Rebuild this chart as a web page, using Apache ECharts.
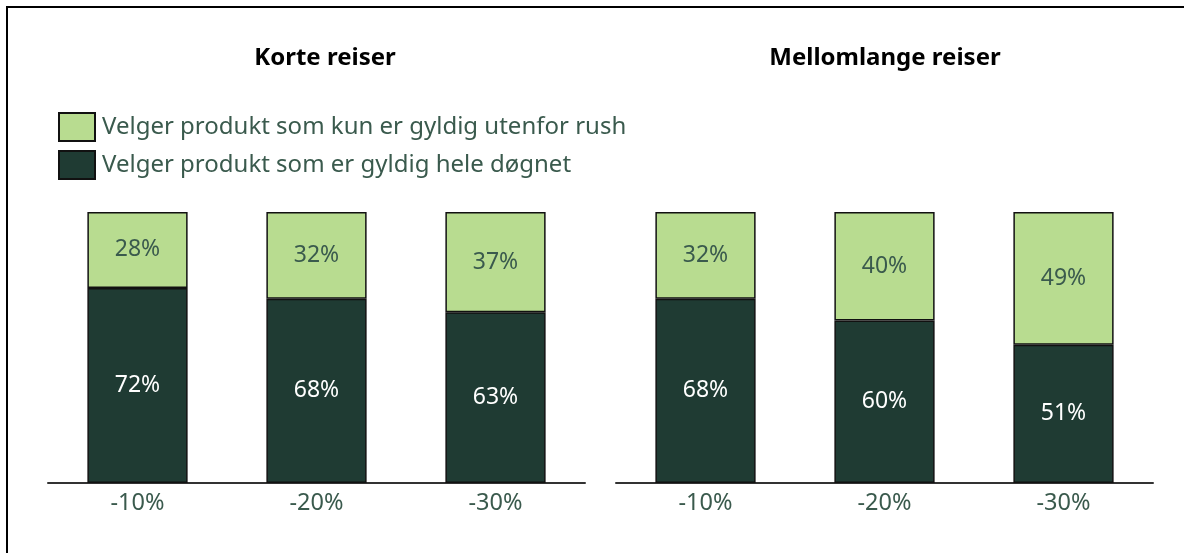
<!DOCTYPE html>
<html>
<head>
<meta charset="utf-8">
<script src="https://cdn.jsdelivr.net/npm/echarts@6/dist/echarts.min.js"></script>
<style>
html,body{margin:0;padding:0;background:#fff;}
#chart{width:1184px;height:553px;}
</style>
</head>
<body>
<div id="chart"></div>
<script>
var categories = ['-10%', '-20%', '-30%'];
var panelTitles = ['Korte reiser', 'Mellomlange reiser'];
var seriesNames = ['Velger produkt som kun er gyldig utenfor rush', 'Velger produkt som er gyldig hele døgnet'];
// korte reiser
var korteHele = [72, 68, 63];
var korteRush = [28, 32, 37];
// mellomlange reiser
var mellomHele = [68, 60, 51];
var mellomRush = [32, 40, 49];

var lightGreen = '#b8dc90';
var darkGreen = '#1f3b33';
var textColor = '#3a5a4d';
var font = 'Noto Sans';

function makeSeries(name, data, idx, color, labelColor, stack) {
    return {
        name: name,
        type: 'bar',
        stack: stack,
        xAxisIndex: idx,
        yAxisIndex: idx,
        barWidth: '56%',
        itemStyle: { color: color, borderColor: '#111', borderWidth: 1.5 },
        label: {
            show: true,
            position: 'inside',
            formatter: '{c}%',
            color: labelColor,
            fontFamily: font,
            fontSize: 23
        },
        data: data
    };
}

var chart = echarts.init(document.getElementById('chart'));
var option = {
    animation: false,
    textStyle: { fontFamily: font },
    graphic: [{
        type: 'rect',
        shape: { x: 7, y: 7, width: 1300, height: 700 },
        style: { fill: 'none', stroke: '#000', lineWidth: 2 }
    }],
    title: [
        { text: panelTitles[0], left: 320, top: 41, textAlign: 'center',
          textStyle: { fontFamily: font, fontWeight: 'bold', fontSize: 24, color: '#000' } },
        { text: panelTitles[1], left: 880, top: 41, textAlign: 'center',
          textStyle: { fontFamily: font, fontWeight: 'bold', fontSize: 24, color: '#000' } }
    ],
    legend: {
        orient: 'vertical',
        left: 53,
        top: 107,
        icon: 'rect',
        itemWidth: 36,
        itemHeight: 28,
        itemGap: 8,
        data: seriesNames,
        textStyle: { fontFamily: font, fontSize: 24, lineHeight: 28, color: textColor, padding: [0, 0, 0, 2] }
    },
    grid: [
        { left: 48, width: 537, top: 212, height: 271 },
        { left: 616, width: 537, top: 212, height: 271 }
    ],
    xAxis: [0, 1].map(function (i) {
        return {
            type: 'category',
            gridIndex: i,
            data: categories,
            axisTick: { show: false },
            axisLine: { lineStyle: { color: '#333', width: 2 } },
            axisLabel: { color: textColor, fontFamily: font, fontSize: 23.5, margin: 8 }
        };
    }),
    yAxis: [0, 1].map(function (i) {
        return { type: 'value', gridIndex: i, min: 0, max: 100, show: false, splitLine: { show: false } };
    }),
    series: [
        makeSeries(seriesNames[1], korteHele, 0, darkGreen, '#ffffff', 'a'),
        makeSeries(seriesNames[0], korteRush, 0, lightGreen, textColor, 'a'),
        makeSeries(seriesNames[1], mellomHele, 1, darkGreen, '#ffffff', 'b'),
        makeSeries(seriesNames[0], mellomRush, 1, lightGreen, textColor, 'b')
    ]
};
chart.setOption(option);
window.onresize = chart.resize;
</script>
</body>
</html>
